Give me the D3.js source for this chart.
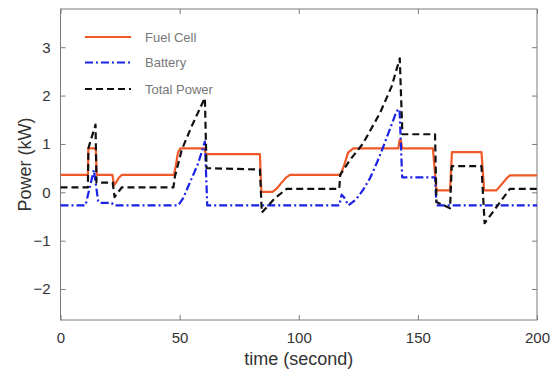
<!DOCTYPE html>
<html><head><meta charset="utf-8">
<script src="https://cdn.jsdelivr.net/npm/d3@7"></script>
<style>body{margin:0;background:#fff;} svg{display:block;}</style>
</head><body>
<svg id="chart" width="557" height="371"></svg>
<script>
// ---- data ----
const fuelCellTime = [0, 11.5, 11.7, 14.8, 15.2, 21.8, 22.5, 23.3, 24.5, 25.7, 47.6, 48.4, 49.3, 50.3, 60.3, 61.0, 83.7, 84.3, 89.0, 90.8, 92.8, 94.8, 96.3, 117.5, 119.0, 120.7, 122.9, 141.8, 142.3, 142.9, 143.4, 156.3, 157.8, 163.5, 164.3, 176.7, 177.8, 183.0, 187.5, 188.6, 200];
const fuelCellPower = [0.36, 0.36, 0.91, 0.91, 0.36, 0.36, 0.15, 0.2, 0.3, 0.36, 0.36, 0.55, 0.82, 0.91, 0.91, 0.79, 0.79, 0.01, 0.01, 0.08, 0.2, 0.31, 0.36, 0.36, 0.55, 0.82, 0.91, 0.91, 1.08, 1.08, 0.91, 0.91, 0.04, 0.04, 0.83, 0.83, 0.04, 0.04, 0.3, 0.35, 0.35];

const batteryTime = [0, 10.5, 14.0, 15.8, 16.5, 21.5, 22.3, 49.4, 51.5, 53.6, 57.8, 60.6, 61.6, 117.0, 118.0, 119.0, 120.8, 124.0, 127.0, 130.0, 132.7, 135.0, 137.6, 141.1, 142.3, 143.4, 157.2, 157.8, 200];
const batteryPower = [-0.27, -0.27, 0.46, -0.18, -0.22, -0.22, -0.27, -0.27, -0.12, 0.12, 0.6, 1.05, -0.27, -0.27, -0.05, -0.1, -0.27, -0.15, 0.05, 0.3, 0.6, 0.88, 1.22, 1.68, 1.72, 0.31, 0.31, -0.27, -0.27];

const totalTime = [0, 11.5, 11.7, 14.7, 15.1, 21.9, 22.7, 25.7, 47.4, 48.0, 50.9, 55.0, 59.9, 60.6, 61.3, 83.7, 84.5, 90.0, 94.9, 117.0, 117.4, 121.5, 127.0, 134.1, 139.0, 142.4, 143.5, 157.2, 157.8, 163.5, 164.2, 176.7, 178.0, 188.6, 200];
const totalPower = [0.1, 0.1, 0.91, 1.4, 0.2, 0.2, -0.1, 0.1, 0.1, 0.32, 0.88, 1.36, 1.88, 1.95, 0.5, 0.47, -0.42, -0.12, 0.07, 0.07, 0.36, 0.67, 1.01, 1.64, 2.19, 2.77, 1.2, 1.2, -0.2, -0.33, 0.54, 0.54, -0.64, 0.07, 0.07];

const xTicks = [0, 50, 100, 150, 200];
const yTicks = [-2, -1, 0, 1, 2, 3];
const seriesNames = ["Fuel Cell", "Battery", "Total Power"];

// ---- layout ----
const svg = d3.select("#chart");
const L = 60.5, R = 537, T = 9, B = 320;
const x = d3.scaleLinear().domain([0, 200]).range([L, R]);
const y = d3.scaleLinear().domain([-2.64, 3.79]).range([B, T]);
const frameColor = "#7a7a7a";
const textColor = "#333";
const fontFam = "'Liberation Sans', Arial, Helvetica, sans-serif";

// axes (MATLAB style: ticks inside, on all four sides)
const ax = svg.append("g");
ax.append("g").attr("transform", `translate(0,${B})`)
  .call(d3.axisBottom(x).tickValues(xTicks).tickSizeInner(-5).tickSizeOuter(0).tickPadding(12))
  .call(g => { g.select(".domain").remove(); g.selectAll("line").attr("stroke", frameColor);
    g.selectAll("text").attr("font-size", 15).attr("font-family", fontFam).attr("fill", textColor); });
ax.append("g").attr("transform", `translate(0,${T})`)
  .call(d3.axisTop(x).tickValues(xTicks).tickSizeInner(-5).tickSizeOuter(0).tickFormat(""))
  .call(g => { g.select(".domain").remove(); g.selectAll("line").attr("stroke", frameColor); });
ax.append("g").attr("transform", `translate(${L},0)`)
  .call(d3.axisLeft(y).tickValues(yTicks).tickSizeInner(-5).tickSizeOuter(0).tickPadding(10).tickFormat(d3.format("d")))
  .call(g => { g.select(".domain").remove(); g.selectAll("line").attr("stroke", frameColor);
    g.selectAll("text").attr("font-size", 15).attr("font-family", fontFam).attr("fill", textColor); });
ax.append("g").attr("transform", `translate(${R},0)`)
  .call(d3.axisRight(y).tickValues(yTicks).tickSizeInner(-5).tickSizeOuter(0).tickFormat(""))
  .call(g => { g.select(".domain").remove(); g.selectAll("line").attr("stroke", frameColor); });

svg.append("rect").attr("x", L).attr("y", T).attr("width", R - L).attr("height", B - T)
  .attr("fill", "none").attr("stroke", frameColor).attr("stroke-width", 1);

// lines
const line = d3.line().x(d => x(d[0])).y(d => y(d[1]));
const zip = (a, b) => a.map((t, i) => [t, b[i]]);
const styles = [
  {data: zip(fuelCellTime, fuelCellPower), color: "#f05a28", dash: null, w: 2.2},
  {data: zip(batteryTime, batteryPower), color: "#1a22e6", dash: "8,3,2,3", w: 2.2},
  {data: zip(totalTime, totalPower), color: "#111", dash: "7,4", w: 2.2}
];
const plot = svg.append("g");
styles.forEach(s => {
  plot.append("path").attr("d", line(s.data)).attr("fill", "none")
    .attr("stroke", s.color).attr("stroke-width", s.w)
    .attr("stroke-dasharray", s.dash).attr("stroke-linejoin", "round");
});

// legend
const legY = [37, 62.5, 89];
const leg = svg.append("g");
seriesNames.forEach((n, i) => {
  leg.append("line").attr("x1", 85).attr("x2", 131).attr("y1", legY[i]).attr("y2", legY[i])
    .attr("stroke", styles[i].color).attr("stroke-width", 2.2).attr("stroke-dasharray", styles[i].dash);
  leg.append("text").attr("x", 145).attr("y", legY[i] + 4.5).text(n)
    .attr("font-size", 13).attr("font-family", fontFam).attr("fill", "#777");
});

// axis labels
svg.append("text").attr("x", (L + R) / 2).attr("y", 365).attr("text-anchor", "middle")
  .attr("font-size", 18).attr("font-family", fontFam).attr("fill", textColor).text("time (second)");
svg.append("text").attr("transform", `translate(31,${(T + B) / 2}) rotate(-90)`).attr("text-anchor", "middle")
  .attr("font-size", 18).attr("font-family", fontFam).attr("fill", textColor).text("Power (kW)");
</script>
</body></html>
